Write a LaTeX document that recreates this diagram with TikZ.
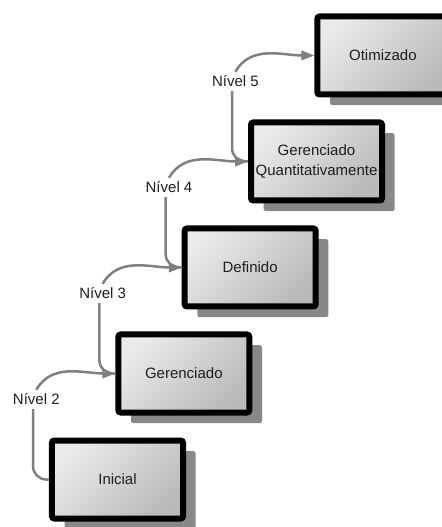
\documentclass[tikz,border=0pt]{standalone}
\usepackage{fontspec}
\setmainfont{Liberation Sans}
\usepackage{tikz}
\usetikzlibrary{positioning,calc,shadows,arrows.meta}

\definecolor{boxlight}{RGB}{234,234,234}
\definecolor{boxdark}{RGB}{186,186,186}
\definecolor{shadowgray}{RGB}{136,136,136}
\definecolor{conngray}{RGB}{128,128,128}
\definecolor{textgray}{RGB}{30,30,30}

\begin{document}
\begin{tikzpicture}[x=0.03cm,y=-0.03cm,
		stage/.style={draw=black,
			line width=0.18cm,
			rounded corners=2pt,
			top color=boxlight,
			bottom color=boxdark,
			shading angle=45,
			drop shadow={shadow xshift=0.38cm,shadow yshift=-0.32cm,fill=shadowgray,opacity=1},
			minimum width=3.93cm,
			minimum height=2.34cm,
			align=center,
			text=textgray,
			font=\fontsize{12.8pt}{17pt}\selectfont
		},
		lvllabel/.style={text=textgray,
			font=\fontsize{12.8pt}{15pt}\selectfont
		},
		conn/.style={draw=conngray,
			line width=0.075cm
		}]
		\useasboundingbox (0,0) rectangle (441,527);

		\node[stage] (inicial) at (117.5,479.5) {Inicial};

		\node[stage,
			above=0.66cm of inicial,
			xshift=1.99cm
		] (gerenciado) {Gerenciado};

		\node[stage,
			above=0.66cm of gerenciado,
			xshift=1.99cm
		] (definido) {Definido};

		\node[stage,
			above=0.66cm of definido,
			xshift=1.99cm
		] (quantitativo) {Gerenciado\\Quantitativamente};

		\node[stage,
			above=0.66cm of quantitativo,
			xshift=1.99cm
		] (otimizado) {Otimizado};

		% labels of the levels
		\node[lvllabel] (nivel2) at ($(gerenciado.west)+(-79,26)$) {Nível 2};
		\node[lvllabel] (nivel3) at ($(definido.west)+(-79,26)$) {Nível 3};
		\node[lvllabel] (nivel4) at ($(quantitativo.west)+(-79,26)$) {Nível 4};
		\node[lvllabel] (nivel5) at ($(otimizado.west)+(-79,26)$) {Nível 5};

		\draw[conn,rounded corners=0.4cm] (inicial.west) -| ([xshift=-0.1cm]nivel2.south);
		\draw[conn,rounded corners=0.4cm] (gerenciado.west) -| ([xshift=-0.1cm]nivel3.south);
		\draw[conn,rounded corners=0.4cm] (definido.west) -| ([xshift=-0.1cm]nivel4.south);
		\draw[conn,rounded corners=0.4cm] (quantitativo.west) -| ([xshift=-0.1cm]nivel5.south);

		\draw[conn,-{Triangle[length=11pt,width=8pt]}] (nivel2.north) to[out=60,in=180] (gerenciado.west);
		\draw[conn,-{Triangle[length=11pt,width=8pt]}] (nivel3.north) to[out=60,in=180] (definido.west);
		\draw[conn,-{Triangle[length=11pt,width=8pt]}] (nivel4.north) to[out=60,in=180] (quantitativo.west);
		\draw[conn,-{Triangle[length=11pt,width=8pt]}] (nivel5.north) to[out=60,in=180] (otimizado.west);

	\end{tikzpicture}
\end{document}
